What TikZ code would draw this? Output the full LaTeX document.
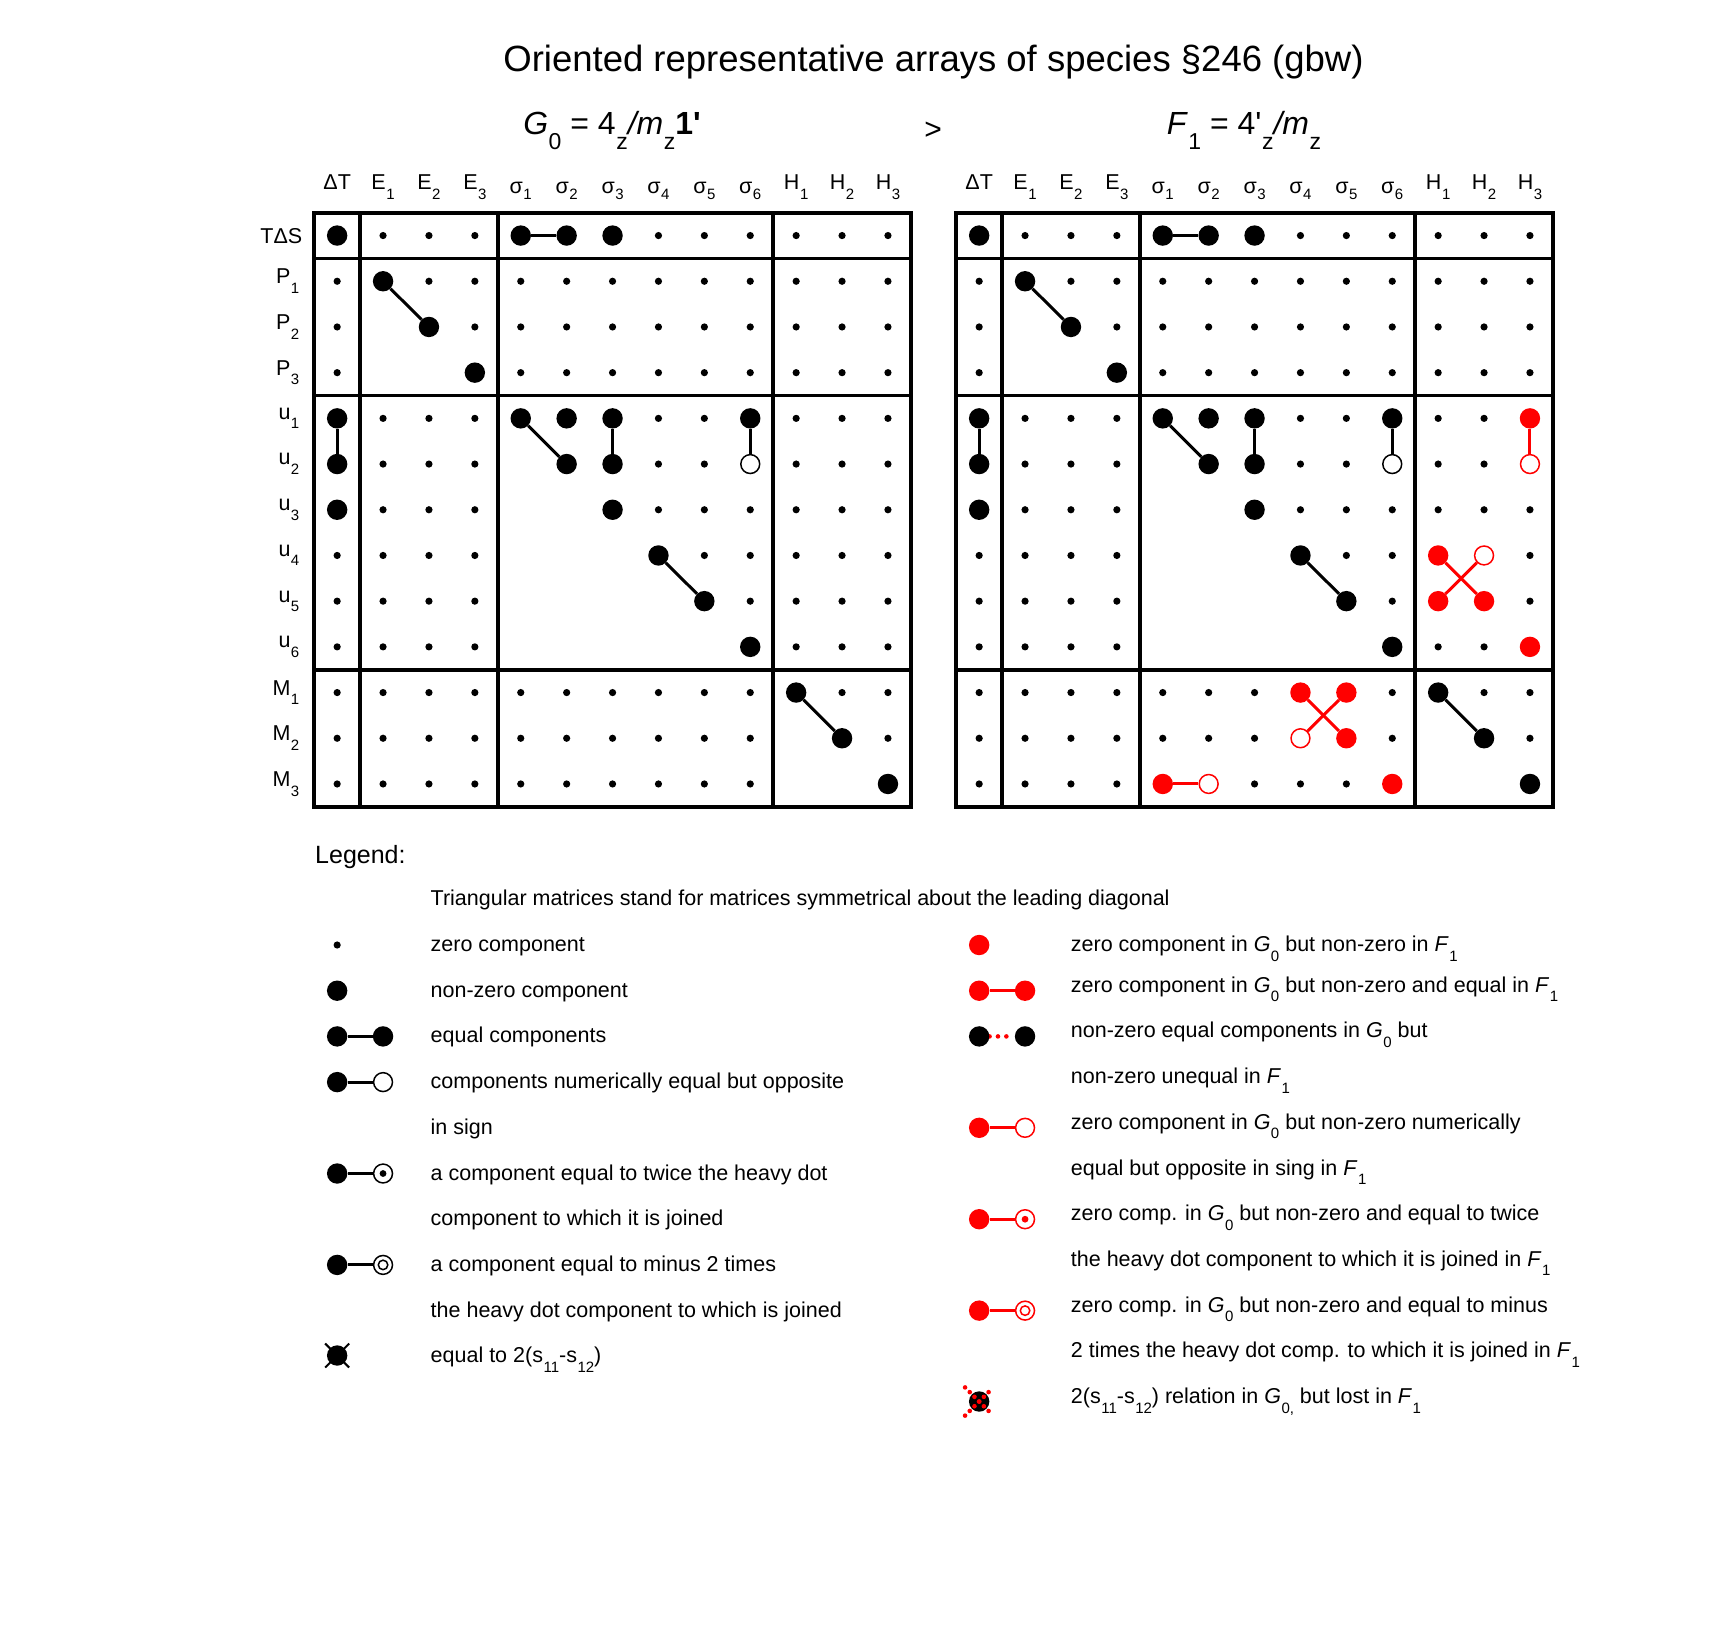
\documentclass[tikz,border=0pt]{standalone}
\usepackage{fontspec}
\setmainfont{Liberation Sans}
\usetikzlibrary{calc}
\pgfdeclarelayer{background}
\pgfsetlayers{background,main}

\newcommand\lsub[1]{\kern0.5pt\raisebox{-9.5pt}{\fontsize{15}{15}\selectfont #1}}
\newcommand\tsub[1]{\kern0.5pt\raisebox{-15pt}{\fontsize{23}{23}\selectfont #1}}
\newcommand\sgm[1]{\raisebox{-3.5pt}{σ}\lsub{#1}}
\newcommand\Gz{\textit{G}\lsub{0}}
\newcommand\Fo{\textit{F}\lsub{1}}
\newcommand\markocc[2]{\foreach \pp in {#2}{\expandafter\gdef\csname occ#1-\pp\endcsname{}}}

\tikzset{
  smalldot/.style={circle, fill=black, inner sep=0pt, minimum size=7.2pt},
  bigdot/.style={circle, fill=black, inner sep=0pt, minimum size=20.4pt},
  opendot/.style={circle, draw=black, fill=white, line width=1.5pt, inner sep=0pt, minimum size=18.9pt},
  redbig/.style={bigdot, fill=red},
  redopen/.style={opendot, draw=red},
  conn/.style={line width=3pt, draw=black},
  redconn/.style={line width=3pt, draw=red},
  frame/.style={line width=3.6pt},
  hdr/.style={anchor=base, inner sep=0pt, font=\fontsize{21.5}{21.5}\selectfont},
  rowlab/.style={anchor=east, inner sep=0pt, font=\fontsize{21.5}{21.5}\selectfont},
  legtext/.style={anchor=base west, inner sep=0pt, font=\fontsize{21.5}{21.5}\selectfont},
  subtitle/.style={anchor=base, inner sep=0pt, font=\fontsize{32}{32}\selectfont},
  reddots/.style={draw=red, line width=4.6pt, line cap=round, dash pattern=on 0pt off 8.4pt},
  xreddots/.style={draw=red, line width=4.6pt, line cap=round, dash pattern=on 0pt off 6.65pt},
}

\markocc{L}{0-0,0-4,0-5,0-6,1-1,2-2,3-3,4-0,4-4,4-5,4-6,4-9,5-0,5-5,5-6,5-9,6-0,6-6,7-7,8-8,9-9,10-10,11-11,12-12}
\markocc{R}{0-0,0-4,0-5,0-6,1-1,2-2,3-3,4-0,4-4,4-5,4-6,4-9,5-0,5-5,5-6,5-9,6-0,6-6,7-7,8-8,9-9,10-10,11-11,12-12,4-12,5-12,7-10,7-11,8-10,8-11,9-12,10-7,10-8,11-7,11-8,12-4,12-5,12-9}

\begin{document}
\begin{tikzpicture}[x=1pt,y=-1pt]
\begin{pgfonlayer}{background}
\fill[white] (0,0) rectangle (1715,1626);
\end{pgfonlayer}
\useasboundingbox (0,0) rectangle (1715,1626);

% titles
\node[anchor=base, inner sep=0pt, font=\fontsize{36.5}{36.5}\selectfont] (title) at (933.5,71) {Oriented representative arrays of species §246 (gbw)};
\node[subtitle] (g0) at (612,134) {\textit{G}\tsub{0} = 4\tsub{z}\textit{/m}\tsub{z}\textbf{1\textquotesingle}};
\node[anchor=center, inner sep=0pt, font=\fontsize{30}{30}\selectfont] (gt) at (933,131) {>};
\node[subtitle] (f1) at (1244,134) {\textit{F}\tsub{1} = 4\textquotesingle\tsub{z}\textit{/m}\tsub{z}};

% grid coordinates
\foreach \tb/\xo in {L/314.2,R/956.2}{
  \foreach \ri in {0,...,12}{
    \foreach \ci in {0,...,12}{
      \coordinate (\tb-\ri-\ci) at ({\xo+45.9*(\ci+0.5)},{212.7+45.7*(\ri+0.5)});
    }
  }
}

% frames
\foreach \xo in {314.2,956.2}{
  \draw[frame] (\xo,212.7) rectangle ({\xo+596.7},806.8);
  \foreach \k in {1,4,10}{
    \draw[frame] ({\xo+45.9*\k},212.7) -- ({\xo+45.9*\k},806.8);
    \draw[frame] (\xo,{212.7+45.7*\k}) -- ({\xo+596.7},{212.7+45.7*\k});
  }
}

% column headers
\foreach \tb/\xo in {L/314.2,R/956.2}{
  \foreach \ci/\lab in {0/{ΔT},1/{E\lsub{1}},2/{E\lsub{2}},3/{E\lsub{3}},4/{\sgm{1}},5/{\sgm{2}},6/{\sgm{3}},7/{\sgm{4}},8/{\sgm{5}},9/{\sgm{6}},10/{H\lsub{1}},11/{H\lsub{2}},12/{H\lsub{3}}}{
    \node[hdr] (\tb-h-\ci) at ({\xo+45.9*(\ci+0.5)},189.5) {\lab};
  }
}

% row labels
\node[anchor=base east, inner sep=0pt, font=\fontsize{21.5}{21.5}\selectfont] (rl-0) at (302.5,243.3) {TΔS};
\foreach \ri/\lab in {1/{P\lsub{1}},2/{P\lsub{2}},3/{P\lsub{3}},4/{u\lsub{1}},5/{u\lsub{2}},6/{u\lsub{3}},7/{u\lsub{4}},8/{u\lsub{5}},9/{u\lsub{6}},10/{M\lsub{1}},11/{M\lsub{2}},12/{M\lsub{3}}}{
  \node[rowlab] (rl-\ri) at (299.5,{212.7+45.7*(\ri+0.5)}) {\lab};
}

% small dots (zero components)
\foreach \tb in {L,R}{
  \foreach \ri in {0,...,12}{
    \foreach \ci in {0,...,12}{
      \pgfmathtruncatemacro\br{(\ri>0)+(\ri>3)+(\ri>9)}
      \pgfmathtruncatemacro\bc{(\ci>0)+(\ci>3)+(\ci>9)}
      \pgfmathtruncatemacro\emp{and(\br==\bc,\ci<\ri)}
      \ifnum\emp=0
        \ifcsname occ\tb-\ri-\ci\endcsname\else
          \node[smalldot] (\tb-\ri-\ci-s) at (\tb-\ri-\ci) {};
        \fi
      \fi
    }
  }
}

% heavy dots and connectors common to both arrays
\foreach \tb in {L,R}{
  \foreach \pp in {0-0,0-4,0-5,0-6,1-1,2-2,3-3,4-0,4-4,4-5,4-6,4-9,5-0,5-5,5-6,6-0,6-6,7-7,8-8,9-9,10-10,11-11,12-12}{
    \node[bigdot] (\tb-\pp-n) at (\tb-\pp) {};
  }
  \node[opendot] (\tb-5-9-n) at (\tb-5-9) {};
  \foreach \pa/\pb in {0-4/0-5,1-1/2-2,4-0/5-0,4-4/5-5,4-6/5-6,4-9/5-9,7-7/8-8,10-10/11-11}{
    \draw[conn] (\tb-\pa-n) -- (\tb-\pb-n);
  }
}

% red components in F1
\foreach \pp in {4-12,7-10,8-10,8-11,9-12,10-7,10-8,11-8,12-4,12-9}{
  \node[redbig] (R-\pp-n) at (R-\pp) {};
}
\foreach \pp in {5-12,7-11,11-7,12-5}{
  \node[redopen] (R-\pp-n) at (R-\pp) {};
}
\foreach \pa/\pb in {4-12/5-12,7-10/8-11,7-11/8-10,10-7/11-8,10-8/11-7,12-4/12-5}{
  \draw[redconn] (R-\pa-n) -- (R-\pb-n);
}

% legend
\node[anchor=base west, inner sep=0pt, font=\fontsize{25}{25}\selectfont] (leg) at (315,863) {Legend:};
\node[legtext] (lt0) at (430.5,905.8) {Triangular matrices stand for matrices symmetrical about the leading diagonal};

% left legend symbols
\node[smalldot] (lg1) at (337.15,945) {};
\node[bigdot] (lg2) at (337.15,990.7) {};
\node[bigdot] (lg3a) at (337.15,1036.4) {};
\node[bigdot] (lg3b) at (383.05,1036.4) {};
\draw[conn] (lg3a) -- (lg3b);
\node[bigdot] (lg4a) at (337.15,1082.1) {};
\node[opendot] (lg4b) at (383.05,1082.1) {};
\draw[conn] (lg4a) -- (lg4b);
\node[bigdot] (lg6a) at (337.15,1173.5) {};
\node[opendot] (lg6b) at (383.05,1173.5) {};
\node[smalldot, minimum size=6.8pt] (lg6c) at (lg6b.center) {};
\draw[conn] (lg6a) -- (lg6b);
\node[bigdot] (lg8a) at (337.15,1264.9) {};
\node[opendot] (lg8b) at (383.05,1264.9) {};
\node[circle, draw=black, line width=1.5pt, inner sep=0pt, minimum size=9.5pt] (lg8c) at (lg8b.center) {};
\draw[conn] (lg8a) -- (lg8b);
\node[bigdot] (lg10) at (337.15,1355.5) {};
\draw[line width=2pt] ([shift={(-12,-12)}]lg10.center) -- ([shift={(12,12)}]lg10.center);
\draw[line width=2pt] ([shift={(-12,12)}]lg10.center) -- ([shift={(12,-12)}]lg10.center);

% left legend texts
\node[legtext] (lt1) at (430.5,951.5) {zero component};
\node[legtext] (lt2) at (430.5,997.2) {non-zero component};
\node[legtext] (lt3) at (430.5,1042.9) {equal components};
\node[legtext] (lt4) at (430.5,1088.6) {components numerically equal but opposite};
\node[legtext] (lt5) at (430.5,1134.3) {in sign};
\node[legtext] (lt6) at (430.5,1180) {a component equal to twice the heavy dot};
\node[legtext] (lt7) at (430.5,1225.7) {component to which it is joined};
\node[legtext] (lt8) at (430.5,1271.4) {a component equal to minus 2 times};
\node[legtext] (lt9) at (430.5,1317.1) {the heavy dot component to which is joined};
\node[legtext] (lt10) at (430.5,1362.8) {equal to 2(s\lsub{11}-s\lsub{12})};

% right legend symbols
\node[redbig] (rg1) at (979.15,945) {};
\node[redbig] (rg2a) at (979.15,990.7) {};
\node[redbig] (rg2b) at (1025.05,990.7) {};
\draw[redconn] (rg2a) -- (rg2b);
\node[bigdot] (rg3a) at (979.15,1036.4) {};
\node[bigdot] (rg3b) at (1025.05,1036.4) {};
\begin{pgfonlayer}{background}
\draw[reddots] (rg3a) -- (rg3b);
\end{pgfonlayer}
\node[redbig] (rg5a) at (979.15,1127.8) {};
\node[redopen] (rg5b) at (1025.05,1127.8) {};
\draw[redconn] (rg5a) -- (rg5b);
\node[redbig] (rg7a) at (979.15,1219.2) {};
\node[redopen] (rg7b) at (1025.05,1219.2) {};
\node[smalldot, fill=red, minimum size=6.8pt] (rg7c) at (rg7b.center) {};
\draw[redconn] (rg7a) -- (rg7b);
\node[redbig] (rg9a) at (979.15,1310.6) {};
\node[redopen] (rg9b) at (1025.05,1310.6) {};
\node[circle, draw=red, line width=1.5pt, inner sep=0pt, minimum size=9.5pt] (rg9c) at (rg9b.center) {};
\draw[redconn] (rg9a) -- (rg9b);
\node[bigdot] (rg11) at (979.15,1401.5) {};
\draw[xreddots] ([shift={(-14.1,-14.1)}]rg11.center) -- ([shift={(14.1,14.1)}]rg11.center);
\draw[xreddots] ([shift={(-14.1,14.1)}]rg11.center) -- ([shift={(14.1,-14.1)}]rg11.center);

% right legend texts
\node[legtext] (rt1) at (1070.7,951.5) {zero component in \Gz{} but non-zero in \Fo};
\node[legtext] (rt2) at (1070.7,992.2) {zero component in \Gz{} but non-zero and equal in \Fo};
\node[legtext] (rt3) at (1070.7,1037.9) {non-zero equal components in \Gz{} but};
\node[legtext] (rt4) at (1070.7,1083.6) {non-zero unequal in \Fo};
\node[legtext] (rt5) at (1070.7,1129.3) {zero component in \Gz{} but non-zero numerically};
\node[legtext] (rt6) at (1070.7,1175) {equal but opposite in sing in \Fo};
\node[legtext] (rt7) at (1070.7,1220.7) {zero comp. in \Gz{} but non-zero and equal to twice};
\node[legtext] (rt8) at (1070.7,1266.4) {the heavy dot component to which it is joined in \Fo};
\node[legtext] (rt9) at (1070.7,1312.1) {zero comp. in \Gz{} but non-zero and equal to minus};
\node[legtext] (rt10) at (1070.7,1357.8) {2 times the heavy dot comp. to which it is joined in \Fo};
\node[legtext] (rt11) at (1070.7,1403.5) {2(s\lsub{11}-s\lsub{12}) relation in \textit{G}\lsub{0,} but lost in \Fo};
\end{tikzpicture}
\end{document}
